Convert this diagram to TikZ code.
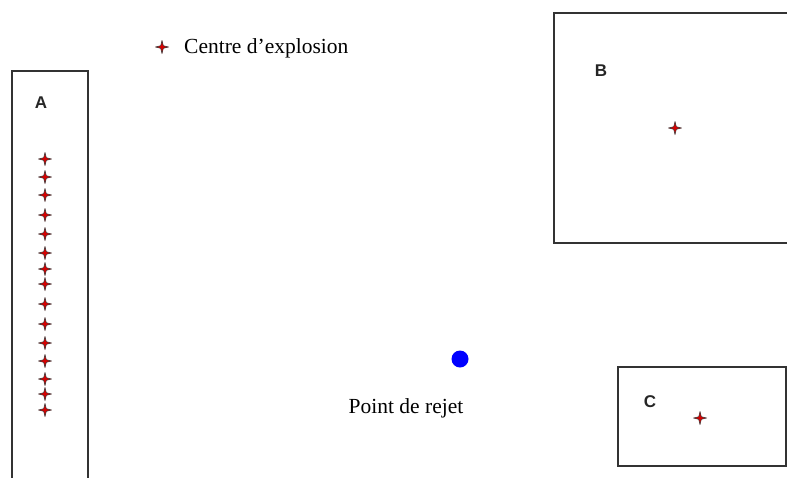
\documentclass[tikz,border=0pt]{standalone}
\usepackage{fontspec}
\setmainfont{Liberation Serif}
\newfontfamily\labfont{Liberation Sans}
\begin{document}
\begin{tikzpicture}[x=1pt,y=-1pt,
  expl/.style={circle,minimum size=14pt,inner sep=0pt,
    path picture={\filldraw[fill=red!85!black,draw=black!80,line width=0.5pt]
      ([yshift=6.5pt]path picture bounding box.center)
      -- ++(1.3pt,-5.2pt) -- ++(5.2pt,-1.3pt) -- ++(-5.2pt,-1.3pt)
      -- ++(-1.3pt,-5.2pt) -- ++(-1.3pt,5.2pt) -- ++(-5.2pt,1.3pt)
      -- ++(5.2pt,1.3pt) -- cycle;}},
  zone/.style={draw=black!80,line width=1.3pt},
  zlab/.style={font=\labfont\bfseries\fontsize{17}{20}\selectfont,inner sep=0pt,text=black!85},
  txt/.style={font=\fontsize{21.5}{25}\selectfont,inner sep=0pt}]
\useasboundingbox (0,0) rectangle (787,477);
% zones
\draw[zone] (12,71) rectangle (88,490);
\draw[zone] (554,13) rectangle (800,243);
\draw[zone] (618,367) rectangle (786,466);
% labels
\node[zlab] (la) at (41,103) {A};
\node[zlab] (lb) at (601,71) {B};
\node[zlab] (lc) at (650,402) {C};
% legend
\node[expl] (leg) at (162,47) {};
\node[txt,anchor=west] (legt) at (184,48) {Centre d’explosion};
% explosion centres zone A
\foreach \y [count=\i] in {159,177,195,215,234,253,269,284,304,324,343,361,379,394,410}
  \node[expl] (a\i) at (45,\y) {};
\node[expl] (sb) at (675,128) {};
\node[expl] (sc) at (700,418) {};
% release point
\node[circle,fill=blue,minimum size=17pt,inner sep=0pt] (rej) at (460,359) {};
\node[txt] (rejt) at (406,408) {Point de rejet};
\end{tikzpicture}
\end{document}
